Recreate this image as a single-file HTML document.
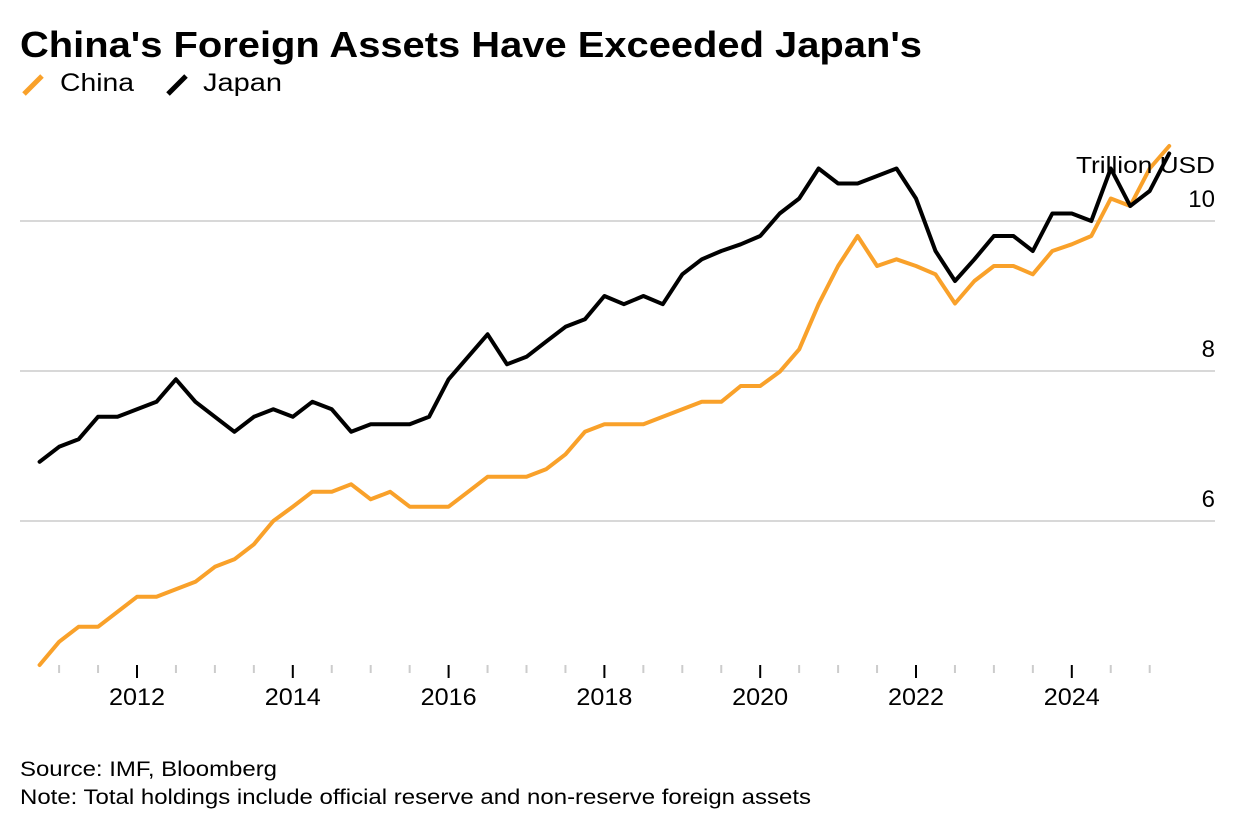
<!DOCTYPE html>
<html><head><meta charset="utf-8"><style>
body{margin:0;background:#fff;font-family:"Liberation Sans",Arial,sans-serif;}
svg text{font-family:"Liberation Sans",Arial,sans-serif;}
</style></head><body>
<svg width="1236" height="832">
<text x="20" y="57" font-size="36" font-weight="bold" fill="#000" textLength="902" lengthAdjust="spacingAndGlyphs">China's Foreign Assets Have Exceeded Japan's</text>
<g>
<line x1="24" y1="94" x2="42" y2="76" stroke="#f9a12a" stroke-width="5"/>
<text x="60" y="91" font-size="25" textLength="74" lengthAdjust="spacingAndGlyphs">China</text>
<line x1="168" y1="94" x2="186" y2="76" stroke="#000" stroke-width="5"/>
<text x="203" y="91" font-size="25" textLength="79" lengthAdjust="spacingAndGlyphs">Japan</text>
</g>
<g id="grid"></g><g id="xaxis"></g><g id="series"></g>
<text x="1076" y="173" font-size="23" textLength="139" lengthAdjust="spacingAndGlyphs">Trillion USD</text>
<text x="20" y="776" font-size="21" textLength="257" lengthAdjust="spacingAndGlyphs">Source: IMF, Bloomberg</text>
<text x="20" y="804" font-size="21" textLength="791" lengthAdjust="spacingAndGlyphs">Note: Total holdings include official reserve and non-reserve foreign assets</text>
</svg>
<script>
const startYear = 2010.75;
const china = [4.08,4.39,4.59,4.59,4.79,4.99,4.99,5.09,5.19,5.39,5.49,5.69,6.0,6.19,6.39,6.39,6.49,6.29,6.39,6.19,6.19,6.19,6.39,6.59,6.59,6.59,6.69,6.89,7.19,7.29,7.29,7.29,7.39,7.49,7.59,7.59,7.8,7.8,7.99,8.29,8.89,9.4,9.8,9.4,9.49,9.4,9.29,8.9,9.2,9.4,9.4,9.29,9.6,9.69,9.8,10.3,10.2,10.7,11.0];
const japan = [6.79,6.99,7.09,7.39,7.39,7.49,7.59,7.89,7.59,7.39,7.19,7.39,7.49,7.39,7.59,7.49,7.19,7.29,7.29,7.29,7.39,7.89,8.19,8.49,8.09,8.19,8.39,8.59,8.69,9.0,8.89,9.0,8.89,9.29,9.49,9.6,9.69,9.8,10.1,10.3,10.7,10.5,10.5,10.6,10.7,10.3,9.6,9.2,9.49,9.8,9.8,9.6,10.1,10.1,10.0,10.7,10.2,10.4,10.9];
const yTicks = [6,8,10];
const xLabels = [2012,2014,2016,2018,2020,2022,2024];
const NS='http://www.w3.org/2000/svg';
const xs = t => 137 + (t-2012)*77.9;
const ys = v => 221 + (10-v)*75;
function mk(tag, attrs, parent){const e=document.createElementNS(NS,tag);for(const k in attrs)e.setAttribute(k,attrs[k]);document.getElementById(parent).appendChild(e);return e;}
yTicks.forEach(v=>{
  const l=mk('line',{x1:20,x2:1215,y1:ys(v),y2:ys(v),stroke:'#cccccc','stroke-width':1.5},'grid');
  
  
  const t=mk('text',{x:1215,y:ys(v)-14,'font-size':24,'text-anchor':'end'},'grid');
  t.textContent=v;
  
  
});
for(let t=2011;t<=2025.01;t+=0.5){
  const major = xLabels.includes(t);
  const l=mk('line',{x1:xs(t),x2:xs(t),y1:665,y2:major?678:673,stroke:major?'#000':'#cccccc','stroke-width':2},'xaxis');
  
  
}
xLabels.forEach(y=>{
  const t=mk('text',{x:xs(y)-28,y:705,'font-size':24,textLength:56,lengthAdjust:'spacingAndGlyphs'},'xaxis');
  t.textContent=y;
  
  
});
function line(data,color,name){
  const d=data.map((v,i)=>(i?'L':'M')+xs(startYear+i*0.25).toFixed(1)+','+ys(v).toFixed(1)).join('');
  const p=mk('path',{d:d,fill:'none',stroke:color,'stroke-width':4,'stroke-linejoin':'round','stroke-linecap':'round'},'series');
  
  
}
line(china,'#f9a12a','china-line');
line(japan,'#000000','japan-line');
</script>
</body></html>
